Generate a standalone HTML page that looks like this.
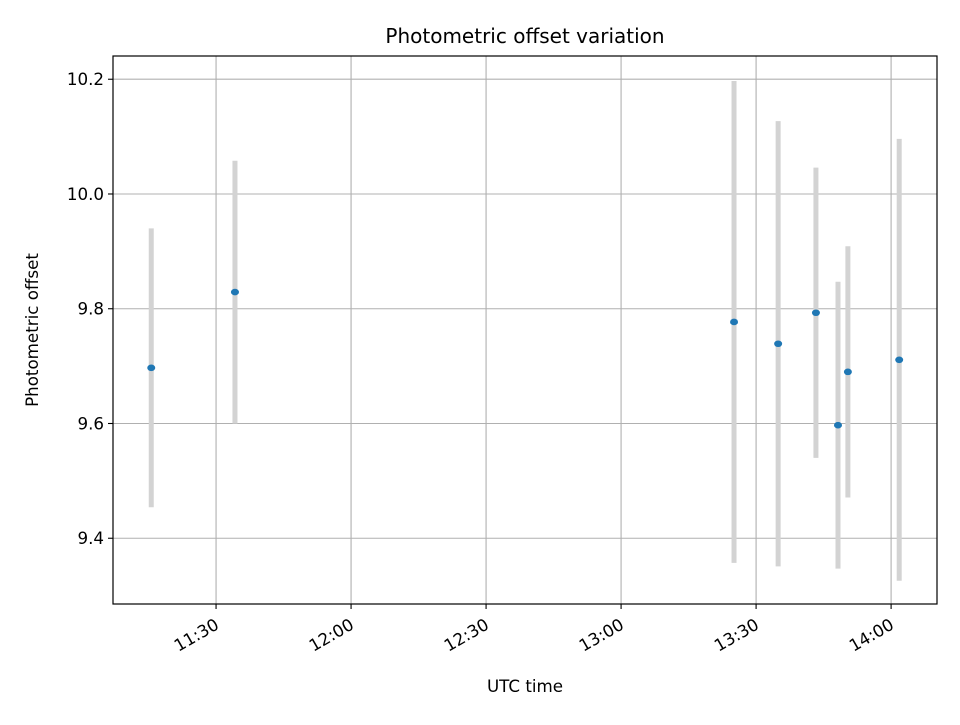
<!DOCTYPE html>
<html><head><meta charset="utf-8"><style>
body{margin:0;background:#fff}
svg text{font-family:"DejaVu Sans","Liberation Sans",sans-serif;fill:#000}
</style></head><body>
<svg id="chart" width="960" height="720" xmlns="http://www.w3.org/2000/svg">
<rect width="960" height="720" fill="#fff"/>
<g id="grid"></g><g id="bars"></g><g id="pts"></g><g id="axes"></g>
<text x="525" y="43" font-size="20" text-anchor="middle">Photometric offset variation</text>
<text x="525" y="692" font-size="16.7" text-anchor="middle">UTC time</text>
<text transform="translate(38,330) rotate(-90)" font-size="16.7" text-anchor="middle">Photometric offset</text>
</svg>
<script>
// times in minutes after 11:30 UTC
const times=[-14.4,4.2,115.1,124.9,133.3,138.2,140.4,151.8];
const values=[9.697,9.829,9.777,9.739,9.793,9.597,9.690,9.711];
const errors=[0.243,0.229,0.42,0.388,0.253,0.25,0.219,0.385];
const yTicks=[9.4,9.6,9.8,10.0,10.2];
const yTickLabels=["9.4","9.6","9.8","10.0","10.2"];
const xTicks=[0,30,60,90,120,150];
const xTickLabels=["11:30","12:00","12:30","13:00","13:30","14:00"];
const L=113,R=937,T=56,B=604;
const xMin=-22.9,xMax=160.2,yMin=9.2854,yMax=10.2405;
const X=m=>L+(m-xMin)/(xMax-xMin)*(R-L);
const Y=v=>B-(v-yMin)/(yMax-yMin)*(B-T);
const NS="http://www.w3.org/2000/svg";
function mk(p,tag,a){const e=document.createElementNS(NS,tag);for(const k in a)e.setAttribute(k,a[k]);document.getElementById(p).appendChild(e);return e;}
yTicks.forEach((v,i)=>{
 let g=mk('grid','line',{x1:L,x2:R,y1:Y(v),y2:Y(v),stroke:'#b0b0b0','stroke-width':1.1});
 
 
 mk('axes','line',{x1:L-5,x2:L,y1:Y(v),y2:Y(v),stroke:'#000','stroke-width':1.1});
 let t=mk('axes','text',{x:L-9,y:Y(v)+6,'font-size':16.7,'text-anchor':'end'});
 t.textContent=yTickLabels[i];
 
 
});
xTicks.forEach((m,i)=>{
 let g=mk('grid','line',{x1:X(m),x2:X(m),y1:T,y2:B,stroke:'#b0b0b0','stroke-width':1.1});
 
 
 mk('axes','line',{x1:X(m),x2:X(m),y1:B,y2:B+5,stroke:'#000','stroke-width':1.1});
 let t=mk('axes','text',{transform:`translate(${X(m)+4},${B+24}) rotate(-30)`,'font-size':16.7,'text-anchor':'end'});
 t.textContent=xTickLabels[i];
 
 
});
times.forEach((m,i)=>{
 let b=mk('bars','line',{x1:X(m),x2:X(m),y1:Y(values[i]+errors[i]),y2:Y(values[i]-errors[i]),stroke:'#d3d3d3','stroke-width':5});
 
 
 let p=mk('pts','ellipse',{cx:X(m),cy:Y(values[i]),rx:4,ry:3.3,fill:'#1f77b4'});
 
 
});
let f=mk('axes','rect',{x:L,y:T,width:R-L,height:B-T,fill:'none',stroke:'#000','stroke-width':1.2});


</script>
</body></html>
